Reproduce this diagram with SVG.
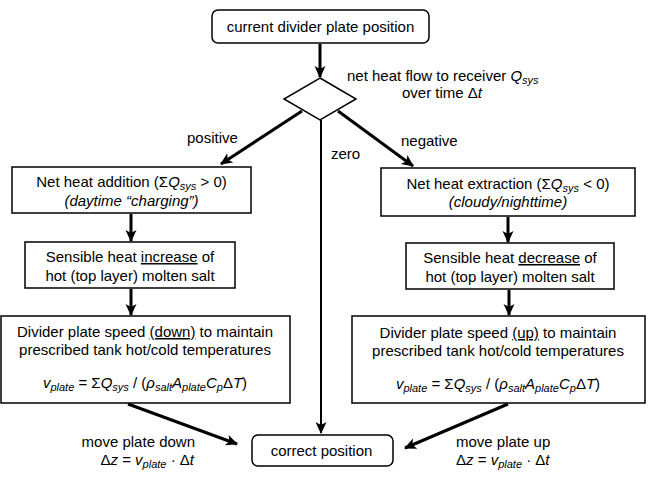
<svg xmlns="http://www.w3.org/2000/svg" width="650" height="486" viewBox="0 0 650 486">
<style>
.box{fill:#fff;stroke:#000;stroke-width:1.5}
.t{font-family:"Liberation Sans",Arial,sans-serif;font-size:15px;fill:#000}
.c{text-anchor:middle}
.i{font-style:italic}
.s{font-size:11px;font-style:italic}
.u{text-decoration:underline}
.ln{stroke:#000;stroke-width:3;fill:none}
.ln2{stroke:#000;stroke-width:2;fill:none}
</style>
<defs>
<marker id="ah" markerUnits="userSpaceOnUse" markerWidth="14" markerHeight="14" viewBox="0 0 14 14" refX="12" refY="7" orient="auto">
<path d="M1,1.5 L13,7 L1,12.5 L4,7 Z" fill="#000"/>
</marker>
</defs>
<rect width="650" height="486" fill="#fff"/>
<g id="connectors">
<line class="ln" x1="320" y1="44" x2="320" y2="77" marker-end="url(#ah)"/>
<line class="ln" x1="302" y1="111" x2="221" y2="164" marker-end="url(#ah)"/>
<line class="ln" x1="338" y1="111" x2="413" y2="166" marker-end="url(#ah)"/>
<line class="ln2" x1="321" y1="120" x2="321" y2="433" marker-end="url(#ah)"/>
<line class="ln" x1="131" y1="214" x2="131" y2="241" marker-end="url(#ah)"/>
<line class="ln" x1="131" y1="289" x2="131" y2="315" marker-end="url(#ah)"/>
<line class="ln" x1="508" y1="217" x2="508" y2="242" marker-end="url(#ah)"/>
<line class="ln" x1="509" y1="290" x2="509" y2="315" marker-end="url(#ah)"/>
<line class="ln" x1="128" y1="404" x2="237" y2="444" marker-end="url(#ah)"/>
<line class="ln" x1="508" y1="404" x2="405" y2="448" marker-end="url(#ah)"/>
</g>
<g id="start">
<rect class="box" x="212" y="10" width="217" height="33" rx="6"/>
<text class="t c" x="320.5" y="32">current divider plate position</text>
</g>
<g id="decision">
<polygon class="box" points="320,78 356,99 320,120 284,99"/>
<text class="t" x="347" y="81">net heat flow to receiver <tspan class="i">Q</tspan><tspan class="s" dy="3">sys</tspan></text>
<text class="t c" x="442" y="98">over time Δ<tspan class="i">t</tspan></text>
</g>
<g id="labels">
<text class="t" x="187" y="143">positive</text>
<text class="t" x="401" y="146">negative</text>
<text class="t" x="331" y="159">zero</text>
</g>
<g id="left1">
<rect class="box" x="12" y="167" width="239" height="46"/>
<text class="t c" x="131.5" y="187">Net heat addition (Σ<tspan class="i">Q</tspan><tspan class="s" dy="3">sys</tspan><tspan dy="-3"> &gt; 0)</tspan></text>
<text class="t c i" x="131.5" y="206">(daytime “charging”)</text>
</g>
<g id="left2">
<rect class="box" x="25" y="242" width="210" height="46"/>
<text class="t c" x="130" y="262">Sensible heat <tspan class="u">increase</tspan> of</text>
<text class="t c" x="130" y="281">hot (top layer) molten salt</text>
</g>
<g id="left3">
<rect class="box" x="1" y="316" width="289" height="87"/>
<text class="t c" x="145" y="337">Divider plate speed <tspan class="u">(down)</tspan> to maintain</text>
<text class="t c" x="145" y="355">prescribed tank hot/cold temperatures</text>
<text class="t c" x="145" y="388"><tspan class="i">v</tspan><tspan class="s" dy="3">plate</tspan><tspan dy="-3"> = Σ</tspan><tspan class="i">Q</tspan><tspan class="s" dy="3">sys</tspan><tspan dy="-3"> / (</tspan><tspan class="i">ρ</tspan><tspan class="s" dy="3">salt</tspan><tspan class="i" dy="-3">A</tspan><tspan class="s" dy="3">plate</tspan><tspan class="i" dy="-3">C</tspan><tspan class="s" dy="3">p</tspan><tspan dy="-3">Δ</tspan><tspan class="i">T</tspan>)</text>
</g>
<g id="right1">
<rect class="box" x="381" y="168" width="254" height="48"/>
<text class="t c" x="508" y="189">Net heat extraction (Σ<tspan class="i">Q</tspan><tspan class="s" dy="3">sys</tspan><tspan dy="-3"> &lt; 0)</tspan></text>
<text class="t c i" x="508" y="207">(cloudy/nighttime)</text>
</g>
<g id="right2">
<rect class="box" x="406" y="243" width="208" height="46"/>
<text class="t c" x="510" y="263">Sensible heat <tspan class="u">decrease</tspan> of</text>
<text class="t c" x="510" y="282">hot (top layer) molten salt</text>
</g>
<g id="right3">
<rect class="box" x="352" y="316" width="293" height="87"/>
<text class="t c" x="498" y="338">Divider plate speed <tspan class="u">(up)</tspan> to maintain</text>
<text class="t c" x="498" y="356">prescribed tank hot/cold temperatures</text>
<text class="t c" x="498" y="389"><tspan class="i">v</tspan><tspan class="s" dy="3">plate</tspan><tspan dy="-3"> = Σ</tspan><tspan class="i">Q</tspan><tspan class="s" dy="3">sys</tspan><tspan dy="-3"> / (</tspan><tspan class="i">ρ</tspan><tspan class="s" dy="3">salt</tspan><tspan class="i" dy="-3">A</tspan><tspan class="s" dy="3">plate</tspan><tspan class="i" dy="-3">C</tspan><tspan class="s" dy="3">p</tspan><tspan dy="-3">Δ</tspan><tspan class="i">T</tspan>)</text>
</g>
<g id="end">
<rect class="box" x="252" y="435" width="141" height="31" rx="6"/>
<text class="t c" x="321.5" y="456">correct position</text>
</g>
<g id="moves">
<text class="t" x="195" y="447" text-anchor="end">move plate down</text>
<text class="t" x="194" y="465" text-anchor="end">Δ<tspan class="i">z</tspan> = <tspan class="i">v</tspan><tspan class="s" dy="3">plate</tspan><tspan dy="-3"> · Δ</tspan><tspan class="i">t</tspan></text>
<text class="t" x="456" y="447">move plate up</text>
<text class="t" x="456" y="465">Δ<tspan class="i">z</tspan> = <tspan class="i">v</tspan><tspan class="s" dy="3">plate</tspan><tspan dy="-3"> · Δ</tspan><tspan class="i">t</tspan></text>
</g>
</svg>
